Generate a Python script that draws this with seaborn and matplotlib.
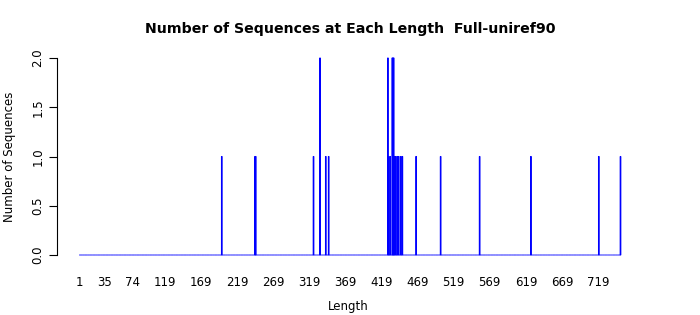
import numpy as np
import pandas as pd
import matplotlib
matplotlib.use("Agg")
import matplotlib.pyplot as plt
import seaborn as sns

# Data
max_length = 750
hit_lengths = [198, 244, 245, 325, 334, 342, 346,
               428, 429, 431, 434, 435, 436, 437,
               439, 441, 443, 446, 448,
               467, 501, 555, 626, 720, 750]
hit_counts = [1, 1, 1, 1, 2, 1, 1,
              2, 1, 1, 2, 2, 2, 1,
              1, 1, 1, 1, 1,
              1, 1, 1, 1, 1, 1]
tick_labels = [1, 35, 74, 119, 169, 219, 269, 319, 369, 419, 469, 519, 569, 619, 669, 719]
y_ticks = [0.0, 0.5, 1.0, 1.5, 2.0]

lengths = np.arange(1, max_length + 1)
counts = np.zeros(max_length)
for L, c in zip(hit_lengths, hit_counts):
    counts[L - 1] = c
df = pd.DataFrame({"Length": lengths, "Count": counts})

sns.set_style("white")
plt.rcParams["font.family"] = ["DejaVu Sans"]
plt.rcParams["text.color"] = "black"
plt.rcParams["axes.labelcolor"] = "black"
plt.rcParams["xtick.color"] = "black"
plt.rcParams["ytick.color"] = "black"

fig = plt.figure(figsize=(7, 3.15), dpi=100)
ax = fig.add_axes([57 / 700, (315 - 255) / 315, (640 - 57) / 700, 197 / 315])

sns.barplot(data=df, x="Length", y="Count", native_scale=True, ax=ax,
            color="blue", edgecolor="blue", linewidth=0.75, width=0.9,
            saturation=1, clip_on=False)
for p in ax.patches:
    p.set_snap(False)

px_per_unit = (620 - 79) / 749
ax.set_xlim(1 - 22.5 / px_per_unit, 750 + 19.5 / px_per_unit)
ax.set_ylim(0, 2)

for s in ["top", "right", "bottom"]:
    ax.spines[s].set_visible(False)
ax.spines["left"].set_color("black")
ax.spines["left"].set_linewidth(0.8)

ax.set_yticks(y_ticks)
ax.set_yticklabels([f"{v:.1f}" for v in y_ticks], rotation=90, va="center", fontsize=8.5)
ax.tick_params(axis="y", left=True, length=6, width=0.8, color="black", pad=3)

ax.set_xticks(tick_labels)
ax.set_xticklabels([str(t) for t in tick_labels], fontsize=8.5)
ax.tick_params(axis="x", bottom=False, length=0, pad=15)

ax.set_xlabel("Length", fontsize=8.5, labelpad=8)
ax.set_ylabel("Number of Sequences", fontsize=8.5, labelpad=11)
ax.grid(False)

fig.suptitle("Number of Sequences at Each Length  Full-uniref90",
             fontsize=10.2, fontweight="bold", x=350 / 700, y=1 - 29 / 315, va="center")

fig.savefig("out.png", dpi=100)
